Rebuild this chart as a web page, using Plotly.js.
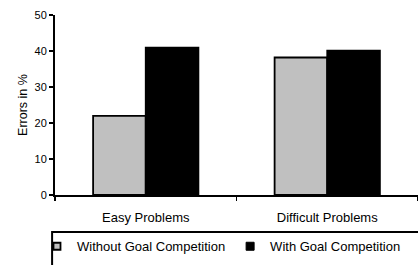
<!DOCTYPE html>
<html>
<head>
<meta charset="utf-8">
<script src="https://cdn.plot.ly/plotly-3.0.1.min.js"></script>
<style>html,body{margin:0;padding:0;background:#fff;}#chart{width:418px;height:265px;}</style>
</head>
<body>
<div id="chart"></div>
<script>
const categories = ["Easy Problems", "Difficult Problems"];
const seriesNames = ["Without Goal Competition", "With Goal Competition"];
const withoutGoal = [22, 38.2];
const withGoal = [40.9, 40.1];
const yTicks = [0, 10, 20, 30, 40, 50];

const FONT = "Liberation Sans, Arial, sans-serif";
const colors = ["#c0c0c0", "#000000"];

const traces = [
  {type: "bar", x: categories, y: withoutGoal, name: seriesNames[0], showlegend: false,
   marker: {color: colors[0], line: {color: "#000", width: 1.8}}, hoverinfo: "y"},
  {type: "bar", x: categories, y: withGoal, name: seriesNames[1], showlegend: false,
   marker: {color: colors[1], line: {color: "#000", width: 1.8}}, hoverinfo: "y"},
  {type: "scatter", mode: "markers", x: [categories[0]], y: [null], name: seriesNames[0], showlegend: true,
   marker: {symbol: "square", size: 7, color: colors[0], line: {color: "#000", width: 1.8}}},
  {type: "scatter", mode: "markers", x: [categories[0]], y: [null], name: seriesNames[1], showlegend: true,
   marker: {symbol: "square", size: 8, color: colors[1], line: {color: "#000", width: 1}}}
];

const layout = {
  width: 418, height: 265,
  margin: {l: 55, r: 0, t: 15, b: 70},
  paper_bgcolor: "#fff", plot_bgcolor: "#fff",
  font: {family: FONT, color: "#000", size: 11},
  barmode: "group", bargap: 0.42, bargroupgap: 0,
  xaxis: {type: "category", categoryorder: "array", categoryarray: categories,
    showline: true, linecolor: "#000", linewidth: 2, ticks: "outside", tickson: "boundaries",
    ticklen: 4, tickwidth: 1.5, tickcolor: "#000", showgrid: false, zeroline: false,
    tickfont: {size: 13, family: FONT}, ticklabelstandoff: 9, fixedrange: true, automargin: false},
  yaxis: {range: [0, 50], tickvals: yTicks, showline: true, linecolor: "#000", linewidth: 2,
    ticks: "outside", ticklen: 4, tickwidth: 1.5, tickcolor: "#000", showgrid: false, zeroline: false,
    tickfont: {size: 11, family: FONT}, automargin: true,
    title: {text: "Errors in %", font: {size: 12.5, family: FONT}, standoff: 4}, fixedrange: true},
  showlegend: true,
  legend: {orientation: "h", x: -0.0496, xanchor: "left", y: -0.285, yanchor: "middle",
    font: {size: 13, family: FONT}, bgcolor: "rgba(0,0,0,0)", borderwidth: 0,
    itemwidth: 30, tracegroupgap: 0},
  shapes: [{type: "rect", xref: "paper", yref: "paper", x0: -0.008, x1: 1.05, y0: -0.2056, y1: -0.45,
    line: {color: "#000", width: 2}, fillcolor: "rgba(0,0,0,0)"}]
};

Plotly.newPlot("chart", traces, layout, {displayModeBar: false, staticPlot: true});
</script>
</body>
</html>
